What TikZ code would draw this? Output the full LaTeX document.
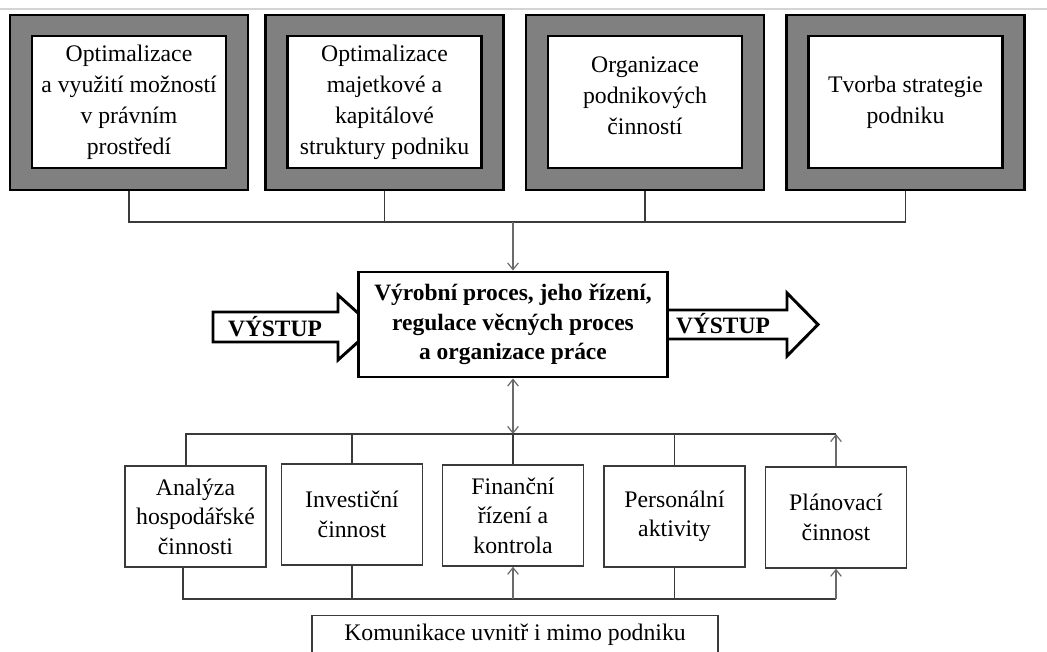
\documentclass[tikz,border=0pt]{standalone}
\usepackage{fontspec}
\setmainfont{Liberation Serif}
\usetikzlibrary{arrows.meta,calc}
\definecolor{framegray}{HTML}{808080}
\definecolor{linegray}{HTML}{3A3A3A}
\definecolor{arrowgray}{HTML}{6A6A6A}
\definecolor{rulegray}{HTML}{D4D4D4}
\begin{document}
\begin{tikzpicture}[x=0.75pt,y=-0.75pt,
  outerbox/.style={draw=black, line width=2.2pt, fill=framegray,
    minimum width=178.5pt, minimum height=131.25pt, inner sep=0pt},
  innerbox/.style={draw=black, line width=2pt, fill=white,
    minimum width=145.5pt, minimum height=99pt, inner sep=0pt,
    align=center, font=\fontsize{17.8}{23.25}\selectfont},
  boxtext/.style={inner sep=0pt, align=center, font=\fontsize{17.8}{23.25}\selectfont},
  mainbox/.style={draw=black, line width=2.2pt, fill=white,
    minimum width=231.75pt, minimum height=78.75pt, inner sep=0pt,
    align=center, font=\fontsize{17.6}{22.1}\selectfont\bfseries},
  actbox/.style={draw=linegray, line width=1.1pt, fill=white,
    minimum width=105.75pt, minimum height=75.75pt, inner sep=0pt,
    align=center, font=\fontsize{17.8}{22.1}\selectfont},
  conn/.style={draw=linegray, line width=0.9pt},
  tip/.tip={Straight Barb[length=5pt,width=8pt]},
  arr/.style={draw=arrowgray, line width=0.9pt, -tip},
  darr/.style={draw=arrowgray, line width=0.9pt, tip-tip},
  blockarrow/.style={draw=black, line width=2.2pt, fill=white, line join=miter},
  arrowlabel/.style={font=\fontsize{17.6}{22}\selectfont\bfseries, inner sep=0pt},
]
\useasboundingbox (0,0) rectangle (1047,651);

% thin rule along the top edge
\draw[rulegray, line width=1.1pt] (0,9) -- (1047,9);

% framed areas of management
\node[outerbox] (o1) at (129,102.5) {};
\node[outerbox] (o2) at (384.5,102.5) {};
\node[outerbox] (o3) at (645,102.5) {};
\node[outerbox] (o4) at (905.5,102.5) {};
\node[innerbox] (i1) at (129,102) {Optimalizace\\a využití možností\\v právním\\prostředí};
\node[innerbox] (i2) at (384.5,102) {Optimalizace\\majetkové a\\kapitálové\\struktury podniku};
\node[innerbox] (i3) at (645,102) {};
\node[boxtext] (t3) at (645,96) {Organizace\\podnikových\\činností};
\node[innerbox] (i4) at (905.5,102) {Tvorba strategie\\podniku};

% input and output block arrows (drawn first, the process box covers their ends)
\draw[blockarrow] (213,312) -- (338,312) -- (338,295) -- (374,327.5)
  -- (338,360) -- (338,342) -- (213,342) -- cycle;
\draw[blockarrow] (655,310) -- (787,310) -- (787,293) -- (818,324.5)
  -- (787,356) -- (787,339) -- (655,339) -- cycle;
\node[arrowlabel] (inlabel) at (275,327) {VÝSTUP};
\node[arrowlabel] (outlabel) at (723,324) {VÝSTUP};

% central process
\node[mainbox] (main) at (513,324.5) {Výrobní proces, jeho řízení,\\regulace věcných proces\\a organizace práce};

% supporting activities
\node[actbox] (A) at (195.5,516.5) {Analýza\\hospodářské\\činnosti};
\node[actbox] (B) at (352,514.5) {Investiční\\činnost};
\node[actbox] (C) at (513,515.5) {Finanční\\řízení a\\kontrola};
\node[actbox] (D) at (674.5,516.5) {Personální\\aktivity};
\node[actbox] (E) at (836,517.5) {Plánovací\\činnost};

% communication strip at the bottom
\node[draw=linegray, line width=1.1pt, anchor=north, minimum width=304.5pt,
  inner sep=0pt, text height=18.75pt, text depth=15pt,
  font=\fontsize{17.8}{22}\selectfont] (K) at (515,615) {Komunikace uvnitř i mimo podniku};

% bus lines
\coordinate (tbus) at (0,222);
\coordinate (mbus) at (0,434);
\coordinate (bbus) at (0,599);

% upper bus into the process
\draw[conn] (o1.south) |- (o4.south |- tbus) -- (o4.south);
\draw[conn] (o2.south) -- (o2.south |- tbus);
\draw[conn] (o3.south) -- (o3.south |- tbus);
\draw[arr] (main.north |- tbus) -- (main.north);

% middle bus between process and activities
\draw[darr] (main.south) -- (main.south |- mbus);
\draw[conn] (main.south |- mbus) -- (C.north);
\draw[conn] ([xshift=-7.1pt]A.north) |- (E.north |- mbus);
\draw[conn] (B.north) -- (B.north |- mbus);
\draw[conn] (D.north) -- (D.north |- mbus);
\draw[arr] (E.north) -- (E.north |- mbus);

% lower bus
\draw[conn] ([xshift=-9.4pt]A.south) |- (E.south |- bbus);
\draw[conn] (B.south) -- (B.south |- bbus);
\draw[conn] (D.south) -- (D.south |- bbus);
\draw[arr] (C.south |- bbus) -- (C.south);
\draw[arr] (E.south |- bbus) -- (E.south);
\end{tikzpicture}
\end{document}
